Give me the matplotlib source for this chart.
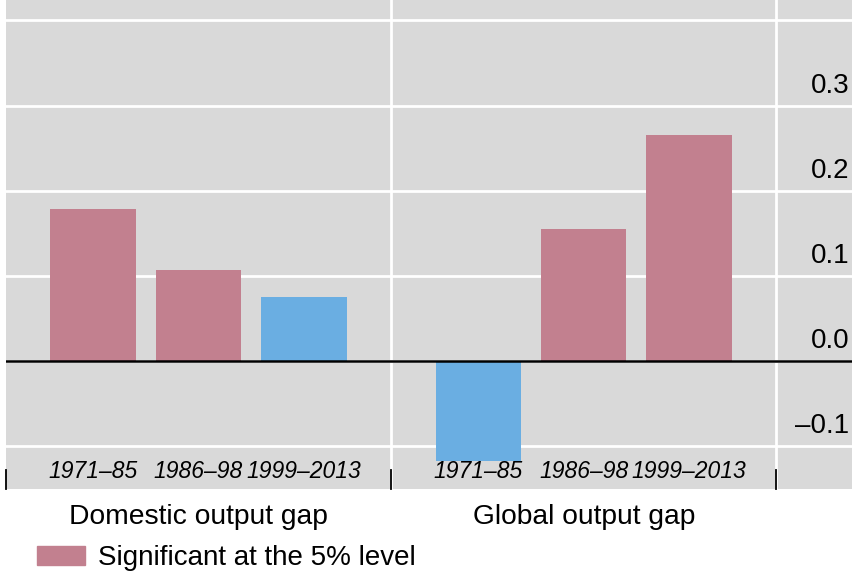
import matplotlib.pyplot as plt
from matplotlib.patches import Patch
from matplotlib.transforms import blended_transform_factory

plt.rcParams['font.family'] = ['Liberation Sans', 'DejaVu Sans']

periods = ["1971–85", "1986–98", "1999–2013"]
groups = ["Domestic output gap", "Global output gap"]
domestic = [0.178, 0.107, 0.075]
global_gap = [-0.118, 0.155, 0.265]
domestic_sig = [True, True, False]
global_sig = [False, True, True]
yticks = [-0.1, 0.0, 0.1, 0.2, 0.3]

pink = "#c2808f"
blue = "#6aaee2"

fig = plt.figure(figsize=(8.52, 5.75), dpi=100)
ax = fig.add_axes([6 / 852, 1 - 489 / 575, 846 / 852, 489 / 575])
ax.set_facecolor("#d9d9d9")

group_w = 3.655
xs, vals, sig = [], [], []
for g, (v, s) in enumerate([(domestic, domestic_sig), (global_gap, global_sig)]):
    for i in range(3):
        xs.append(g * group_w + i)
        vals.append(v[i])
        sig.append(s[i])

colors = [pink if s else blue for s in sig]
ax.bar(xs, vals, width=0.81, color=colors, zorder=3)

ax.set_xlim(-0.825, 7.2)
ax.set_ylim(-0.1505, 0.424)

# gridlines
for y in yticks + [0.4]:
    ax.axhline(y, color="white", lw=2, zorder=1)
seps = [1 + 0.5 * group_w + g * group_w for g in range(2)]
for s in seps:
    ax.axvline(s, color="white", lw=2, zorder=1)
ax.axhline(0, color="black", lw=1.8, zorder=4)

for sp in ax.spines.values():
    sp.set_visible(False)
ax.set_xticks([])
ax.set_yticks([])

# y labels on the right, above gridlines
trans = blended_transform_factory(ax.transAxes, ax.transData)
for y in yticks:
    lab = f"{y:.1f}".replace("-", "–")
    ax.text(0.997, y + 0.008, lab, transform=trans, ha="right", va="bottom", fontsize=20)

# small black ticks at bottom
for x in [-0.825] + seps:
    ax.plot([x, x], [-0.1505, -0.128], color="black", lw=1.3, zorder=5, clip_on=False)

# category labels
for x, i in zip(xs, [0, 1, 2, 0, 1, 2]):
    ax.text(x, -0.1295, periods[i], ha="center", va="center", fontsize=16.5, style="italic")

# group labels
for g, name in enumerate(groups):
    ax.text(1 + g * group_w, -0.1505 - 0.033, name, ha="center", va="center",
            fontsize=20.3, clip_on=False)

fig.legend(handles=[Patch(color=pink)], labels=["Significant at the 5% level"],
           loc="center left", bbox_to_anchor=(37 / 852, 1 - 558 / 575), frameon=False,
           fontsize=20, handlelength=1.73, handleheight=0.65, handletextpad=0.47,
           borderaxespad=0, borderpad=0)

fig.savefig("out.png", dpi=100)
